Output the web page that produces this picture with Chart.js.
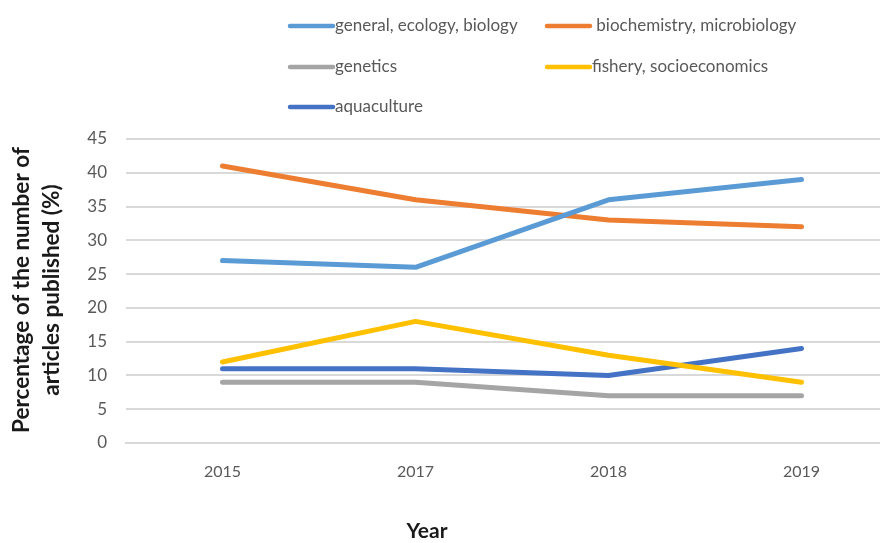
<!DOCTYPE html>
<html>
<head>
<meta charset="utf-8">
<script src="https://cdn.jsdelivr.net/npm/chart.js@4"></script>
<style>
  html, body { margin: 0; padding: 0; background: #fff; overflow: hidden; }
  #wrap { width: 900px; height: 543px; }
</style>
</head>
<body>
<div id="wrap"><canvas id="lineChart" width="900" height="543"></canvas></div>
<script>
// data
const years = ['2015', '2017', '2018', '2019'];
const generalEcology = [27, 26, 36, 39];
const biochemistry = [41, 36, 33, 32];
const genetics = [9, 9, 7, 7];
const fishery = [12, 18, 13, 9];
const aquaculture = [11, 11, 10, 14];
const seriesNames = ['general, ecology, biology', ' biochemistry, microbiology', 'genetics', 'fishery, socioeconomics', 'aquaculture'];
const seriesColors = ['#5B9BD5', '#ED7D31', '#A5A5A5', '#FFC000', '#4472C4'];
const yTitleLines = ['Percentage of the number of', 'articles published (%)'];
const xTitle = 'Year';

const fontFamily = 'Lato, "Open Sans", sans-serif';

// legend in two columns like the original
const gridLegend = {
  id: 'gridLegend',
  afterDraw(chart) {
    const ctx = chart.ctx;
    const cols = [290, 547];
    const rows = [26, 67, 107];
    ctx.save();
    ctx.font = '17px ' + fontFamily;
    ctx.textBaseline = 'middle';
    ctx.fillStyle = '#595959';
    chart.data.datasets.forEach((ds, i) => {
      const x = cols[i % 2];
      const y = rows[Math.floor(i / 2)];
      ctx.strokeStyle = ds.borderColor;
      ctx.lineWidth = 4.5;
      ctx.lineCap = 'round';
      ctx.beginPath();
      ctx.moveTo(x, y);
      ctx.lineTo(x + 43, y);
      ctx.stroke();
      ctx.fillText(ds.label, x + 45, y);
    });
    ctx.restore();
  }
};

// axis titles placed where the original has them
const axisTitles = {
  id: 'axisTitles',
  afterDraw(chart) {
    const ctx = chart.ctx;
    ctx.save();
    ctx.fillStyle = '#1a1a1a';
    ctx.textAlign = 'center';
    ctx.textBaseline = 'middle';
    ctx.font = 'bold 21px ' + fontFamily;
    ctx.fillText(xTitle, 427, 531);
    ctx.font = 'bold 22.5px ' + fontFamily;
    ctx.translate(0, 290);
    ctx.rotate(-Math.PI / 2);
    ctx.fillText(yTitleLines[0], 0, 22);
    ctx.fillText(yTitleLines[1], 0, 52);
    ctx.restore();
  }
};

function initChart() {
  const allValues = [generalEcology, biochemistry, genetics, fishery, aquaculture];
  new Chart(document.getElementById('lineChart'), {
    type: 'line',
    data: {
      labels: years,
      datasets: allValues.map((vals, i) => ({
        label: seriesNames[i],
        data: vals,
        borderColor: seriesColors[i],
        backgroundColor: seriesColors[i],
        borderWidth: 5,
        borderCapStyle: 'round',
        borderJoinStyle: 'round',
        pointRadius: 0,
        tension: 0
      }))
    },
    options: {
      responsive: false,
      animation: false,
      layout: { padding: { top: 139, right: 2, left: 0, bottom: 0 } },
      plugins: {
        legend: { display: false },
        tooltip: { enabled: false }
      },
      scales: {
        x: {
          offset: true,
          afterFit(scale) { scale.height = 100; },
          grid: { display: false, drawTicks: false },
          border: { color: '#d9d9d9', width: 2 },
          ticks: { color: '#595959', font: { family: fontFamily, size: 16 }, padding: 19 }
        },
        y: {
          min: 0,
          max: 45,
          afterFit(scale) { scale.width = 126; },
          grid: { color: '#d9d9d9', lineWidth: 2, drawTicks: false },
          border: { display: false },
          ticks: { stepSize: 5, color: '#595959', font: { family: fontFamily, size: 17 }, padding: 19 }
        }
      }
    },
    plugins: [gridLegend, axisTitles]
  });
}

document.addEventListener('DOMContentLoaded', initChart);
</script>
</body>
</html>
